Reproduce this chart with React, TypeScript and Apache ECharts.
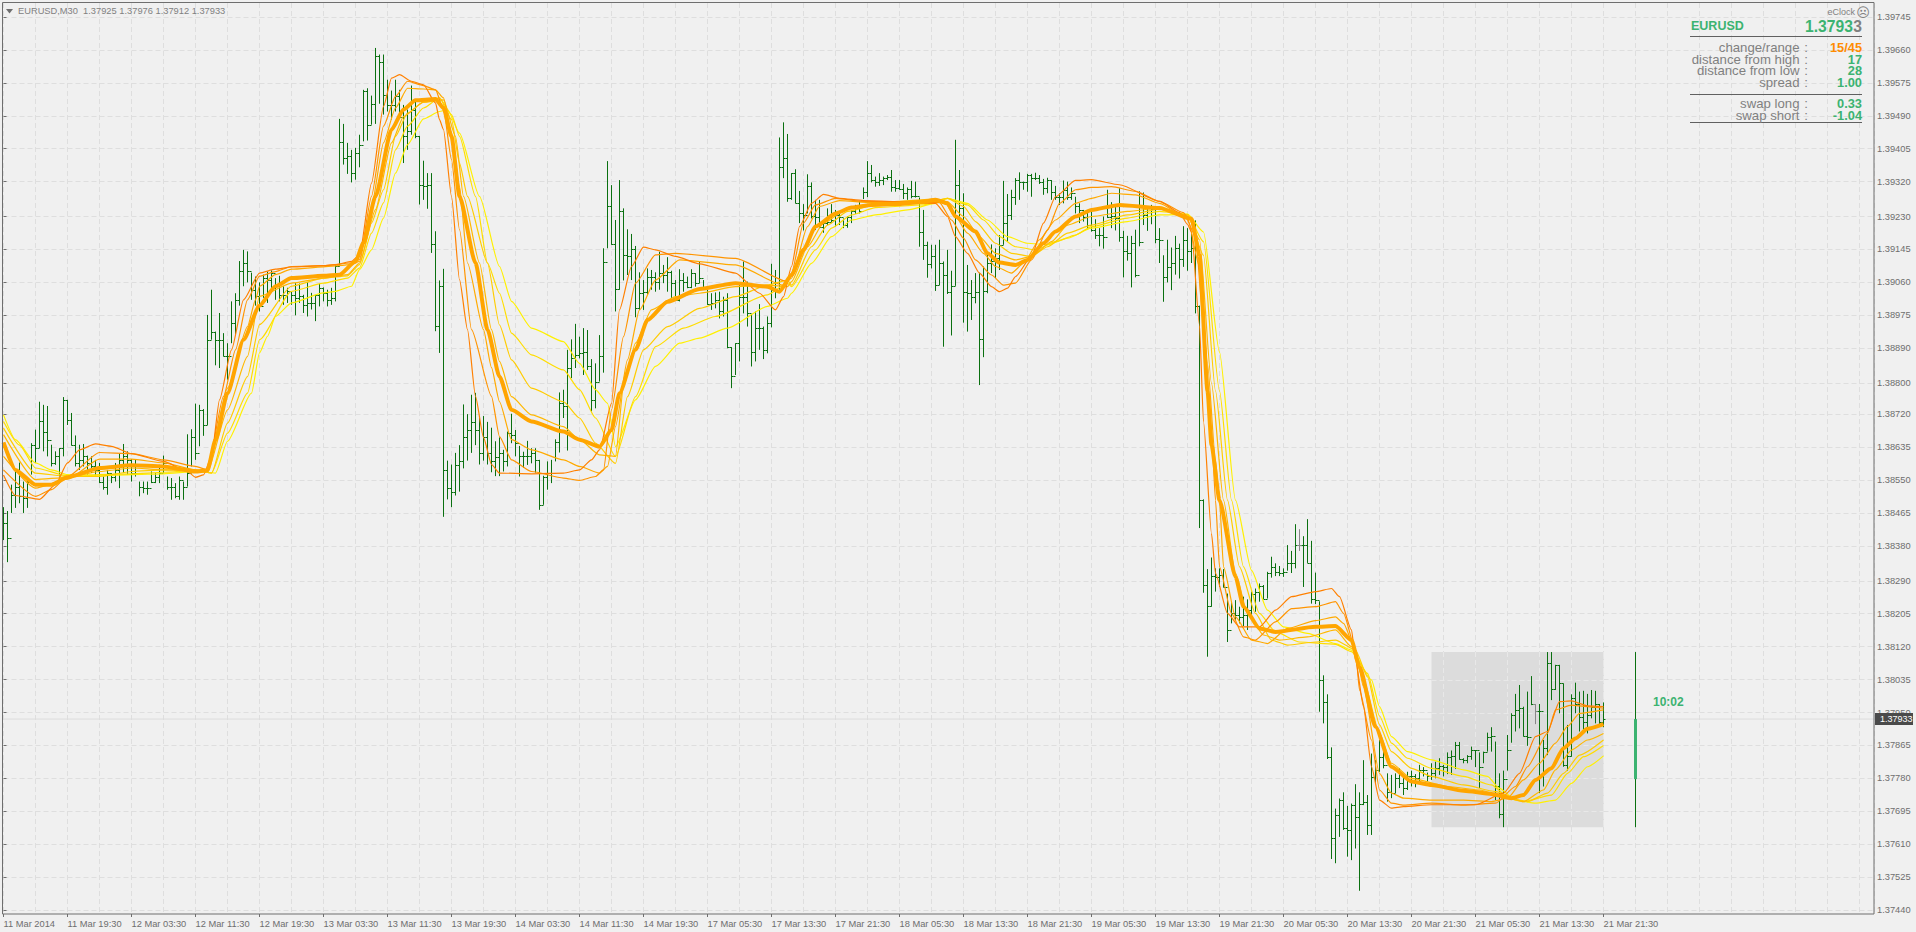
import React, { useEffect, useRef } from "react";
import * as echarts from "echarts";

// Prices are stored as points above PRICE_BASE (1 point = 0.00001)
const PRICE_BASE = 1.37;
const toPrice = (p: number) => PRICE_BASE + p / 100000;

const highs = [
1480,1470,1538,1578,1595,1546,1555,1645,1680,1752,
1744,1741,1641,1624,1632,1764,1757,1723,1665,1641,
1643,1613,1611,1602,1594,1559,1576,1568,1594,1618,
1643,1624,1604,1602,1546,1546,1546,1572,1568,1589,
1613,1559,1555,1542,1559,1546,1668,1681,1747,1744,
1733,1976,2041,1933,1981,1929,1903,2011,2032,2115,
2144,2140,2085,2075,2060,2080,2088,2091,2071,2077,
2050,2046,2037,2058,2057,2028,2061,2033,2028,2057,
2047,2041,2046,2106,2482,2469,2420,2402,2407,2441,
2557,2561,2542,2665,2648,2648,2583,2555,2583,2557,
2518,2506,2568,2527,2438,2374,2342,2342,2192,2065,
2095,1600,1590,1620,1640,1745,1720,1770,1775,1710,
1715,1700,1685,1650,1660,1628,1675,1721,1679,1638,
1623,1651,1632,1632,1602,1561,1598,1602,1655,1776,
1783,1886,1913,1953,1920,1942,1937,1862,1851,1924,
2148,2373,2311,2221,2324,2251,2197,2185,2154,2086,
2066,2096,2092,2086,2139,2105,2125,2090,2066,2094,
2084,2075,2094,2084,2114,2066,2041,2032,2034,2036,
2023,2032,1893,1903,2058,2114,2062,1976,1985,2004,
1946,1972,2108,2092,2434,2473,2443,2342,2352,2296,
2262,2339,2318,2273,2273,2217,2251,2262,2247,2243,
2225,2231,2247,2260,2269,2305,2373,2363,2333,2342,
2333,2337,2350,2324,2324,2314,2305,2322,2320,2279,
2247,2165,2157,2157,2170,2114,2144,2090,2428,2350,
2290,2105,2066,2084,2085,2101,2131,2158,2148,2182,
2322,2288,2299,2329,2344,2320,2340,2340,2343,2337,
2327,2330,2324,2309,2290,2323,2320,2305,2281,2264,
2247,2247,2243,2223,2200,2230,2299,2267,2256,2303,
2193,2180,2180,2196,2295,2292,2252,2260,2256,2200,
2130,2170,2150,2180,2160,2205,2200,2185,2220,2000,
1500,1320,1350,1322,1322,1320,1257,1236,1240,1223,
1249,1242,1262,1270,1283,1279,1313,1352,1335,1328,
1322,1382,1367,1436,1423,1405,1449,1393,1311,1237,
1046,997,860,702,728,744,709,715,765,744,
827,737,844,827,879,853,793,789,793,806,
785,797,800,791,815,809,795,819,823,832,
815,847,852,874,874,832,840,862,853,847,
849,898,912,875,793,800,892,948,998,1021,
965,1004,1044,972,972,879,1106,1106,1073,1073,
1025,918,997,1027,1004,1006,998,1008,1006,972,
976];

const lows = [
1395,1338,1465,1478,1490,1465,1478,1564,1594,1632,
1624,1611,1585,1589,1559,1611,1692,1639,1585,1576,
1585,1564,1568,1559,1542,1525,1512,1542,1546,1529,
1568,1564,1546,1559,1508,1516,1512,1542,1542,1542,
1568,1525,1499,1503,1499,1499,1533,1585,1602,1637,
1664,1692,1912,1846,1839,1869,1809,1903,1925,2000,
2050,2060,2015,2000,1985,2020,2007,2033,2015,2011,
2002,2007,2002,1975,2007,1981,1972,1990,1960,1998,
2011,1998,2002,2011,2101,2364,2340,2318,2325,2357,
2424,2426,2467,2469,2521,2493,2501,2480,2501,2487,
2368,2402,2441,2432,2261,2273,2250,2136,1934,1878,
1455,1500,1480,1510,1520,1580,1600,1620,1640,1590,
1600,1590,1570,1560,1560,1572,1585,1645,1611,1559,
1581,1589,1593,1569,1473,1486,1525,1542,1598,1621,
1710,1626,1813,1839,1864,1821,1834,1727,1735,1804,
1827,2148,2157,1985,2041,2065,2079,2066,1970,1989,
1989,2028,2041,2036,2041,2058,2036,2019,2015,2011,
2036,2045,2045,2049,2058,2041,2002,1989,1993,1967,
1972,1890,1787,1821,1856,1980,1946,1843,1856,1886,
1862,1877,1944,2019,2041,2329,2268,2273,2264,2213,
2194,2238,2225,2195,2200,2188,2208,2213,2204,2208,
2200,2201,2213,2237,2238,2275,2280,2318,2307,2309,
2311,2324,2294,2294,2299,2275,2273,2277,2279,2152,
2118,2072,2096,2038,2053,1894,2030,1923,2051,2230,
1956,1933,1963,2006,1795,1867,2032,2084,2071,2092,
2157,2165,2221,2260,2273,2299,2294,2281,2324,2314,
2286,2290,2273,2273,2260,2264,2273,2273,2238,2213,
2217,2197,2191,2172,2153,2147,2226,2200,2194,2165,
2073,2116,2047,2073,2153,2208,2193,2210,2161,2110,
2010,2060,2040,2080,2070,2100,2090,2110,1980,1426,
1259,1094,1223,1262,1274,1273,1132,1180,1188,1180,
1173,1163,1197,1210,1236,1243,1244,1298,1302,1302,
1300,1316,1310,1322,1367,1274,1336,1231,1230,952,
922,830,572,561,629,647,578,569,599,490,
711,634,634,767,797,806,720,729,742,755,
737,750,759,757,772,785,772,776,780,789,
785,791,789,804,828,819,819,828,809,755,
819,849,849,724,677,654,800,872,901,909,
888,864,969,920,742,759,840,982,1008,948,
810,800,836,948,901,905,896,935,922,914,
912];

const closes = [
1440,1400,1512,1533,1508,1503,1546,1641,1632,1701,
1674,1654,1594,1611,1632,1757,1705,1641,1594,1602,
1611,1594,1585,1576,1546,1533,1568,1559,1576,1602,
1611,1602,1568,1568,1533,1529,1529,1546,1559,1568,
1594,1533,1533,1508,1551,1533,1568,1662,1619,1731,
1692,1912,1933,1912,1912,1869,1869,1955,2015,2090,
2110,2090,2040,2025,2000,2071,2067,2084,2050,2028,
2028,2037,2028,2020,2024,2002,2007,2007,2028,2046,
2033,2015,2020,2101,2421,2381,2385,2342,2394,2415,
2553,2467,2520,2643,2629,2544,2518,2518,2542,2487,
2437,2450,2506,2438,2312,2308,2312,2159,1947,2051,
1576,1530,1520,1590,1600,1660,1680,1700,1680,1620,
1660,1620,1600,1610,1620,1598,1671,1667,1645,1611,
1611,1611,1619,1602,1486,1559,1569,1568,1649,1750,
1740,1839,1864,1873,1877,1881,1843,1757,1804,1870,
2112,2256,2158,2042,2245,2131,2127,2146,1993,2032,
2036,2075,2075,2062,2084,2079,2088,2058,2015,2066,
2062,2049,2084,2058,2071,2045,2004,2006,2015,1985,
2015,1893,1819,1903,2023,2022,1980,1881,1942,1942,
1886,1955,2041,2041,2359,2380,2277,2342,2264,2238,
2234,2309,2232,2230,2202,2213,2217,2221,2234,2230,
2208,2228,2243,2251,2243,2293,2342,2324,2320,2323,
2329,2333,2305,2303,2300,2290,2301,2283,2283,2191,
2157,2108,2128,2053,2109,2079,2034,2051,2311,2251,
2036,2032,2023,2036,1913,2038,2109,2114,2122,2157,
2213,2234,2281,2324,2320,2318,2337,2329,2329,2320,
2303,2324,2294,2281,2280,2299,2281,2290,2256,2247,
2230,2208,2196,2183,2181,2177,2230,2232,2226,2178,
2140,2137,2161,2080,2165,2233,2252,2249,2172,2170,
2075,2100,2110,2150,2120,2170,2140,2150,2000,1498,
1278,1226,1302,1300,1305,1273,1164,1206,1201,1197,
1201,1214,1257,1261,1276,1244,1311,1326,1313,1309,
1313,1335,1335,1382,1382,1382,1336,1242,1240,1035,
976,834,625,685,724,651,647,711,681,715,
720,660,784,801,836,815,746,742,780,769,
755,785,785,780,802,802,785,793,806,812,
810,836,838,866,830,828,838,853,852,809,
847,888,890,761,688,778,853,944,957,961,
889,886,972,955,954,858,1077,1010,1073,1025,
815,838,987,972,939,925,944,965,972,925,
933];
const firstOpen = 1440;
const neutralBars = [324, 383];

// [bar, points]
const maThick = [[0,1647],[3,1576],[8,1538],[12,1538],[16,1557],[24,1581],[32,1588],[40,1585],[48,1572],[51,1575],[53,1654],[56,1774],[60,1912],[64,2000],[68,2050],[72,2071],[80,2077],[84,2080],[88,2114],[90,2162],[93,2282],[97,2454],[100,2506],[103,2530],[108,2533],[110,2510],[112,2437],[114,2282],[118,2110],[121,1938],[124,1817],[127,1731],[132,1701],[140,1675],[144,1654],[149,1636],[152,1679],[154,1774],[158,1886],[161,1963],[166,2010],[174,2043],[183,2058],[191,2049],[194,2036],[197,2079],[200,2144],[203,2204],[208,2238],[212,2253],[217,2260],[223,2262],[230,2268],[233,2273],[236,2264],[238,2230],[243,2191],[246,2135],[249,2111],[253,2105],[256,2118],[260,2161],[263,2191],[268,2230],[272,2247],[279,2260],[289,2252],[297,2224],[299,2130],[301,1780],[302,1640],[304,1498],[308,1300],[310,1223],[314,1167],[318,1158],[328,1171],[333,1173],[337,1137],[339,1068],[343,913],[347,810],[352,772],[357,763],[365,748],[372,740],[377,729],[380,737],[383,776],[387,806],[390,858],[393,883],[396,908],[400,920]];
const ma1 = [[0,1563],[3,1510],[9,1500],[13,1538],[16,1594],[19,1628],[23,1643],[27,1637],[32,1618],[40,1598],[46,1572],[48,1557],[50,1563],[52,1611],[54,1757],[57,1886],[60,2015],[64,2084],[68,2094],[72,2100],[80,2103],[83,2106],[87,2114],[89,2131],[92,2316],[95,2514],[97,2587],[99,2596],[102,2579],[105,2570],[108,2523],[109,2480],[110,2454],[112,2282],[114,2067],[116,1938],[118,1766],[120,1660],[122,1590],[124,1568],[132,1566],[140,1568],[144,1576],[147,1602],[149,1628],[152,1748],[154,1989],[157,2101],[160,2151],[163,2144],[168,2127],[174,2108],[183,2084],[189,2032],[193,1989],[195,2023],[197,2101],[199,2204],[202,2264],[205,2287],[209,2277],[215,2271],[233,2264],[236,2230],[238,2178],[241,2135],[244,2084],[247,2049],[249,2036],[251,2045],[253,2075],[257,2127],[260,2213],[263,2281],[268,2323],[272,2325],[279,2312],[289,2269],[294,2240],[296,2210],[297,2190],[299,1950],[300,1700],[302,1412],[303,1309],[306,1206],[309,1171],[314,1171],[318,1214],[322,1249],[328,1262],[332,1270],[334,1249],[337,1163],[338,1085],[340,965],[342,810],[344,724],[347,703],[350,707],[357,712],[368,712],[375,742],[379,793],[383,888],[386,901],[389,978],[392,980],[396,967],[400,965]];
const ma2 = [[0,1576],[8,1508],[12,1525],[16,1559],[24,1621],[32,1618],[40,1602],[48,1585],[51,1576],[55,1766],[58,1886],[61,2015],[64,2076],[68,2088],[72,2101],[80,2103],[87,2110],[89,2119],[92,2282],[95,2463],[98,2540],[101,2579],[105,2568],[108,2557],[110,2506],[112,2377],[114,2196],[117,1938],[122,1766],[124,1662],[127,1602],[132,1572],[140,1555],[144,1549],[148,1559],[150,1576],[152,1731],[155,1920],[158,2058],[163,2131],[168,2135],[183,2122],[196,2062],[197,2084],[200,2213],[203,2260],[208,2277],[215,2269],[234,2266],[237,2221],[240,2174],[243,2118],[247,2079],[250,2053],[253,2058],[257,2118],[261,2195],[264,2264],[268,2299],[272,2305],[277,2307],[283,2295],[289,2269],[295,2240],[298,2180],[300,1950],[302,1680],[303,1498],[304,1326],[307,1206],[310,1145],[313,1137],[318,1184],[322,1218],[328,1223],[333,1236],[335,1206],[338,1111],[339,1008],[342,879],[344,750],[347,716],[350,711],[357,716],[365,711],[373,716],[378,759],[381,810],[386,896],[388,957],[392,969],[396,965],[400,961]];
const ma3 = [[0,1611],[8,1529],[16,1552],[24,1604],[32,1604],[40,1594],[48,1576],[51,1575],[56,1787],[61,1946],[63,2015],[64,2050],[68,2080],[72,2094],[80,2100],[87,2106],[89,2114],[92,2256],[95,2420],[98,2510],[101,2561],[105,2559],[108,2557],[110,2536],[112,2445],[114,2308],[116,2110],[120,1938],[122,1840],[124,1752],[127,1654],[132,1628],[140,1602],[144,1585],[149,1568],[151,1585],[153,1688],[156,1860],[159,1989],[163,2066],[169,2118],[183,2105],[195,2053],[197,2071],[201,2204],[204,2256],[209,2271],[217,2266],[235,2271],[238,2230],[241,2187],[245,2135],[248,2101],[252,2084],[255,2109],[259,2170],[263,2221],[268,2264],[272,2277],[277,2290],[283,2286],[289,2264],[296,2225],[299,2100],[301,1850],[303,1600],[304,1498],[305,1326],[308,1197],[312,1137],[316,1128],[321,1167],[328,1187],[333,1197],[335,1180],[338,1111],[340,1016],[344,793],[347,742],[350,729],[357,724],[365,724],[372,720],[376,729],[380,776],[384,819],[388,871],[391,914],[394,948],[400,957]];
const ma4 = [[0,1667],[8,1551],[16,1557],[24,1572],[32,1581],[40,1576],[48,1575],[51,1572],[56,1731],[61,1869],[64,2024],[72,2058],[80,2071],[86,2080],[89,2110],[93,2248],[97,2420],[100,2488],[105,2525],[110,2531],[113,2437],[115,2282],[119,2110],[122,1938],[124,1856],[127,1765],[132,1718],[140,1688],[144,1654],[149,1615],[153,1611],[155,1791],[158,1903],[162,1989],[168,2023],[174,2032],[183,2049],[191,2053],[196,2049],[197,2062],[201,2152],[205,2213],[211,2251],[217,2260],[222,2268],[233,2275],[236,2268],[240,2230],[244,2178],[248,2135],[253,2118],[257,2127],[262,2165],[266,2208],[272,2230],[281,2243],[289,2252],[296,2232],[299,2170],[302,1800],[305,1498],[308,1309],[311,1206],[315,1150],[319,1137],[326,1145],[333,1163],[337,1120],[340,1034],[344,896],[347,819],[352,780],[361,759],[369,750],[376,729],[380,720],[385,750],[388,802],[392,853],[396,879],[400,896]];
const ma5 = [[0,1684],[8,1568],[16,1559],[24,1559],[32,1572],[40,1576],[48,1576],[52,1568],[56,1697],[61,1817],[64,1951],[72,2050],[80,2071],[86,2077],[89,2106],[92,2213],[95,2299],[98,2437],[101,2497],[105,2525],[109,2536],[112,2480],[114,2368],[116,2282],[121,2110],[124,1950],[127,1860],[132,1787],[140,1752],[144,1710],[148,1645],[153,1593],[156,1765],[160,1886],[166,1946],[174,1993],[183,2023],[191,2053],[196,2066],[197,2053],[202,2152],[206,2208],[211,2243],[218,2260],[230,2264],[236,2277],[240,2256],[243,2217],[248,2161],[252,2135],[257,2127],[261,2152],[266,2187],[272,2208],[281,2234],[289,2249],[296,2235],[300,2130],[303,1780],[306,1498],[309,1326],[313,1206],[317,1137],[321,1124],[328,1132],[333,1137],[338,1111],[341,1042],[344,918],[347,849],[352,806],[357,785],[365,763],[373,746],[379,724],[381,720],[386,742],[390,793],[394,840],[400,879]];
const ma6 = [[0,1701],[4,1640],[8,1581],[16,1561],[24,1564],[32,1566],[40,1570],[48,1575],[52,1568],[56,1671],[61,1774],[64,1912],[72,2037],[80,2058],[86,2071],[89,2097],[92,2187],[95,2265],[98,2402],[101,2463],[105,2510],[109,2536],[112,2493],[114,2437],[118,2282],[121,2110],[124,2032],[127,1929],[132,1873],[140,1834],[144,1783],[148,1710],[153,1611],[158,1765],[163,1894],[170,1942],[178,1972],[191,2028],[196,2058],[197,2049],[203,2144],[207,2200],[212,2234],[218,2253],[230,2260],[236,2277],[241,2260],[245,2221],[249,2178],[253,2152],[258,2144],[263,2165],[268,2182],[272,2204],[281,2226],[289,2243],[296,2235],[300,2165],[304,1780],[307,1498],[310,1326],[314,1206],[318,1158],[324,1132],[333,1126],[337,1107],[341,1051],[344,941],[347,871],[351,832],[357,806],[365,785],[372,763],[376,733],[380,720],[387,737],[391,793],[395,836],[400,865]];
const ma7 = [[0,1718],[3,1654],[8,1594],[12,1576],[16,1564],[24,1561],[32,1564],[40,1566],[48,1572],[53,1568],[56,1650],[62,1774],[64,1878],[66,1921],[68,1972],[72,2007],[80,2033],[83,2037],[87,2050],[89,2093],[92,2144],[95,2226],[98,2342],[101,2415],[105,2482],[109,2501],[111,2506],[114,2445],[119,2282],[124,2101],[127,2011],[132,1942],[140,1907],[144,1851],[148,1783],[151,1748],[153,1636],[158,1757],[163,1843],[169,1903],[174,1916],[181,1942],[191,1998],[196,2019],[197,2032],[202,2109],[207,2178],[212,2221],[218,2234],[226,2247],[233,2264],[236,2277],[241,2264],[246,2221],[251,2178],[256,2161],[261,2157],[266,2174],[272,2200],[281,2217],[289,2234],[296,2236],[300,2190],[304,1880],[308,1498],[312,1317],[316,1214],[320,1171],[326,1154],[333,1128],[337,1111],[342,1034],[344,965],[347,888],[351,849],[357,828],[365,802],[371,785],[374,754],[378,724],[383,716],[388,724],[392,767],[396,810],[400,838]];

const maColors = ["#ff8000", "#ff9500", "#ffaa00", "#ffb800", "#ffcc00", "#ffdd00", "#fff000"];

// Today's range bar beside the chart, and the shaded box of the same range
const todayBar = 408;
const todayHigh = 1106;
const todayLow = 654;
const todayOpen = 778;
const lastPrice = 933;
const boxFrom = 357;
const boxTo = 400;

const priceTicks = [1.39745,1.3966,1.39575,1.3949,1.39405,1.3932,1.3923,1.39145,1.3906,1.38975,1.3889,1.388,1.3872,1.38635,1.3855,1.38465,1.3838,1.3829,1.38205,1.3812,1.38035,1.3795,1.37865,1.3778,1.37695,1.3761,1.37525,1.3744];
const timeLabels = ["11 Mar 2014","11 Mar 19:30","12 Mar 03:30","12 Mar 11:30","12 Mar 19:30","13 Mar 03:30","13 Mar 11:30","13 Mar 19:30","14 Mar 03:30","14 Mar 11:30","14 Mar 19:30","17 Mar 05:30","17 Mar 13:30","17 Mar 21:30","18 Mar 05:30","18 Mar 13:30","18 Mar 21:30","19 Mar 05:30","19 Mar 13:30","19 Mar 21:30","20 Mar 05:30","20 Mar 13:30","20 Mar 21:30","21 Mar 05:30","21 Mar 13:30","21 Mar 21:30"];
const BARS_PER_LABEL = 16;
const BARS_PER_GRID = 8;
const X_MAX = 467.625;
const Y_MIN = 1.3743;
const Y_MAX = 1.39781;

const FONT = '"Liberation Sans", Arial, sans-serif';
const GRAY = "#808080";
const GREEN = "#3cb371";
const BAR_GREEN = "#0a7010";

const panelRows = [
  { label: "change/range", value: "15/45", y: 47.5, color: "#ff8c00" },
  { label: "distance from high", value: "17", y: 59, color: GREEN },
  { label: "distance from low", value: "28", y: 70.7, color: GREEN },
  { label: "spread", value: "1.00", y: 82.3, color: GREEN },
  { label: "swap long", value: "0.33", y: 103.3, color: GREEN },
  { label: "swap short", value: "-1.04", y: 115, color: GREEN },
];

const txt = (x: number, y: number, text: string, fontSize: number, fill: string, align = "left", fontWeight = "normal", family = FONT) => ({
  type: "text", x, y, z: 20, silent: true,
  style: { text, fontSize, fill, align, verticalAlign: "middle", fontWeight, fontFamily: family },
});
const rule = (y: number) => ({
  type: "line", z: 20, silent: true,
  shape: { x1: 1690, y1: y, x2: 1862, y2: y },
  style: { stroke: "#606060", lineWidth: 1 },
});

function buildOption() {
  const ohlc = closes.map((c, i) => [i, i === 0 ? firstOpen : closes[i - 1], highs[i], lows[i], c]);
  const lineStyleFor = (data: number[][], color: string, width: number, z: number) => ({
    type: "line", data: data.map(([b, p]) => [b, toPrice(p)]), showSymbol: false, smooth: 0.2,
    smoothMonotone: "x", lineStyle: { color, width }, z, silent: true, clip: true,
  });

  const graphic: any[] = [
    { type: "rect", z: 19, silent: true, shape: { x: 2.5, y: 2.5, width: 1871.5, height: 911.5 }, style: { fill: "none", stroke: "#6e6e6e", lineWidth: 1 } },
    { type: "polygon", z: 20, silent: true, shape: { points: [[6, 9], [13, 9], [9.5, 13.5]] }, style: { fill: "#6e6e6e" } },
    txt(18, 10.7, "EURUSD,M30  1.37925 1.37976 1.37912 1.37933", 9.3, GRAY),
    txt(1855, 12, "eClock", 9, GRAY, "right"),
    txt(1863, 12, "\u2639", 13, GRAY, "center", "normal", '"DejaVu Sans"'),
    txt(1691, 26, "EURUSD", 12.5, GREEN, "left", "bold"),
    txt(1853, 26, "1.3793", 15.7, GREEN, "right", "bold"),
    txt(1862, 26, "3", 15.7, GRAY, "right", "bold"),
    rule(36.5), rule(94.5), rule(122.5),
    { type: "rect", z: 20, silent: true, shape: { x: 1875, y: 713, width: 38, height: 12 }, style: { fill: "#4a4a4a" } },
    txt(1880, 719, "1.37933", 9, "#ffffff"),
    txt(1653, 702, "10:02", 12, GREEN, "left", "bold"),
  ];
  panelRows.forEach((r) => {
    graphic.push(txt(1799.5, r.y, r.label, 13.2, GRAY, "right"));
    graphic.push(txt(1806, r.y, ":", 13.2, GRAY, "center"));
    graphic.push(txt(1862, r.y, r.value, 12.8, r.color, "right", "bold"));
  });

  const gridLine = { show: true, lineStyle: { color: "#dedede", type: [5, 3], width: 1 } };

  return {
    animation: false,
    backgroundColor: "#f0f0f0",
    grid: { left: 3.5, right: 42, top: 3, bottom: 18, containLabel: false },
    xAxis: [
      {
        type: "value", min: 0, max: X_MAX, interval: BARS_PER_GRID, position: "bottom",
        splitLine: gridLine, axisLabel: { show: false }, axisTick: { show: false }, axisLine: { show: false },
      },
      {
        type: "value", min: 0, max: X_MAX, position: "bottom", splitLine: { show: false },
        axisLine: { show: false },
        axisTick: { show: true, length: 3, lineStyle: { color: "#6e6e6e" }, customValues: timeLabels.map((_, k) => k * BARS_PER_LABEL) },
        axisLabel: {
          show: true, color: "#6e6e6e", fontSize: 9.3, fontFamily: FONT, margin: 5, align: "left",
          customValues: timeLabels.map((_, k) => k * BARS_PER_LABEL),
          formatter: (v: number) => timeLabels[Math.round(v / BARS_PER_LABEL)] ?? "",
        },
      },
    ],
    yAxis: {
      type: "value", position: "right", min: Y_MIN, max: Y_MAX, scale: true,
      splitLine: gridLine, axisLine: { show: false },
      axisTick: { show: true, length: 3, lineStyle: { color: "#6e6e6e" }, customValues: priceTicks },
      axisLabel: {
        color: "#6e6e6e", fontSize: 9.3, fontFamily: FONT, margin: 3, customValues: priceTicks,
        formatter: (v: number) => v.toFixed(5),
      },
    },
    graphic,
    series: [
      {
        type: "custom", z: 1, silent: true, clip: true, data: [[boxFrom, boxTo, todayHigh, todayLow]],
        encode: { x: [0, 1], y: [2, 3] },
        renderItem: (_p: any, api: any) => {
          const tl = api.coord([boxFrom, toPrice(todayHigh)]);
          const br = api.coord([boxTo, toPrice(todayLow)]);
          const yLast = api.coord([0, toPrice(lastPrice)])[1];
          const xAxisEnd = api.coord([X_MAX, toPrice(lastPrice)])[0];
          const xStart = api.coord([0, toPrice(lastPrice)])[0];
          const children: any[] = [
            { type: "line", shape: { x1: xStart, y1: yLast, x2: xAxisEnd, y2: yLast }, style: { stroke: "#dcdcdc", lineWidth: 1 } },
            { type: "rect", shape: { x: tl[0], y: tl[1], width: br[0] - tl[0], height: br[1] - tl[1] }, style: { fill: "#dcdcdc" } },
          ];
          for (let b = BARS_PER_GRID * Math.ceil(boxFrom / BARS_PER_GRID); b <= boxTo; b += BARS_PER_GRID) {
            const x = api.coord([b, toPrice(lastPrice)])[0];
            children.push({ type: "line", shape: { x1: x, y1: tl[1], x2: x, y2: br[1] }, style: { stroke: "#e8e8e8", lineWidth: 1, lineDash: [5, 3] } });
          }
          priceTicks.forEach((t) => {
            if (t < toPrice(todayHigh) && t > toPrice(todayLow)) {
              const y = Math.round(api.coord([0, t])[1]) + 0.5;
              children.push({ type: "line", shape: { x1: tl[0], y1: y, x2: br[0], y2: y }, style: { stroke: "#e8e8e8", lineWidth: 1, lineDash: [5, 3] } });
            }
          });
          return { type: "group", children };
        },
      },
      {
        type: "custom", z: 2, silent: true, clip: true, data: ohlc,
        encode: { x: 0, y: [1, 2, 3, 4] },
        renderItem: (_p: any, api: any) => {
          const i = api.value(0);
          const x = Math.floor(api.coord([i, toPrice(closes[i])])[0]) + 0.5;
          const yO = Math.round(api.coord([i, toPrice(api.value(1))])[1]) + 0.5;
          const yH = api.coord([i, toPrice(api.value(2))])[1];
          const yL = api.coord([i, toPrice(api.value(3))])[1];
          const yC = Math.round(api.coord([i, toPrice(api.value(4))])[1]) + 0.5;
          const stroke = neutralBars.includes(i) ? "#888888" : BAR_GREEN;
          const s = { stroke, lineWidth: 1 };
          return {
            type: "group",
            children: [
              { type: "line", shape: { x1: x, y1: yH, x2: x, y2: yL }, style: s },
              { type: "line", shape: { x1: x - 2, y1: yO, x2: x, y2: yO }, style: s },
              { type: "line", shape: { x1: x, y1: yC, x2: x + 2, y2: yC }, style: s },
            ],
          };
        },
      },
      {
        type: "custom", z: 2, silent: true, clip: true, data: [[todayBar, todayOpen, todayHigh, todayLow, lastPrice]],
        encode: { x: 0, y: [1, 2, 3, 4] },
        renderItem: (_p: any, api: any) => {
          const x = Math.floor(api.coord([todayBar, toPrice(lastPrice)])[0]) + 0.5;
          const yH = api.coord([todayBar, toPrice(todayHigh)])[1];
          const yL = api.coord([todayBar, toPrice(todayLow)])[1];
          const yO = api.coord([todayBar, toPrice(todayOpen)])[1];
          const yC = api.coord([todayBar, toPrice(lastPrice)])[1];
          return {
            type: "group",
            children: [
              { type: "line", shape: { x1: x, y1: yH, x2: x, y2: yL }, style: { stroke: BAR_GREEN, lineWidth: 1 } },
              { type: "line", shape: { x1: x, y1: yC, x2: x, y2: yO }, style: { stroke: GREEN, lineWidth: 3 } },
            ],
          };
        },
      },
      lineStyleFor(ma7, maColors[6], 1.2, 3),
      lineStyleFor(ma6, maColors[5], 1.2, 3),
      lineStyleFor(ma5, maColors[4], 1.2, 3),
      lineStyleFor(ma4, maColors[3], 1.2, 3),
      lineStyleFor(ma3, maColors[2], 1.2, 3),
      lineStyleFor(ma2, maColors[1], 1.2, 3),
      lineStyleFor(ma1, maColors[0], 1.2, 3),
      lineStyleFor(maThick, "#ffa500", 4, 4),
    ],
  };
}

export default function App() {
  const ref = useRef<HTMLDivElement>(null);
  useEffect(() => {
    document.body.style.margin = "0";
    const chart = echarts.init(ref.current!, undefined, { renderer: "svg" });
    chart.setOption(buildOption() as any);
    return () => chart.dispose();
  }, []);
  return <div ref={ref} style={{ width: 1916, height: 932 }} />;
}
